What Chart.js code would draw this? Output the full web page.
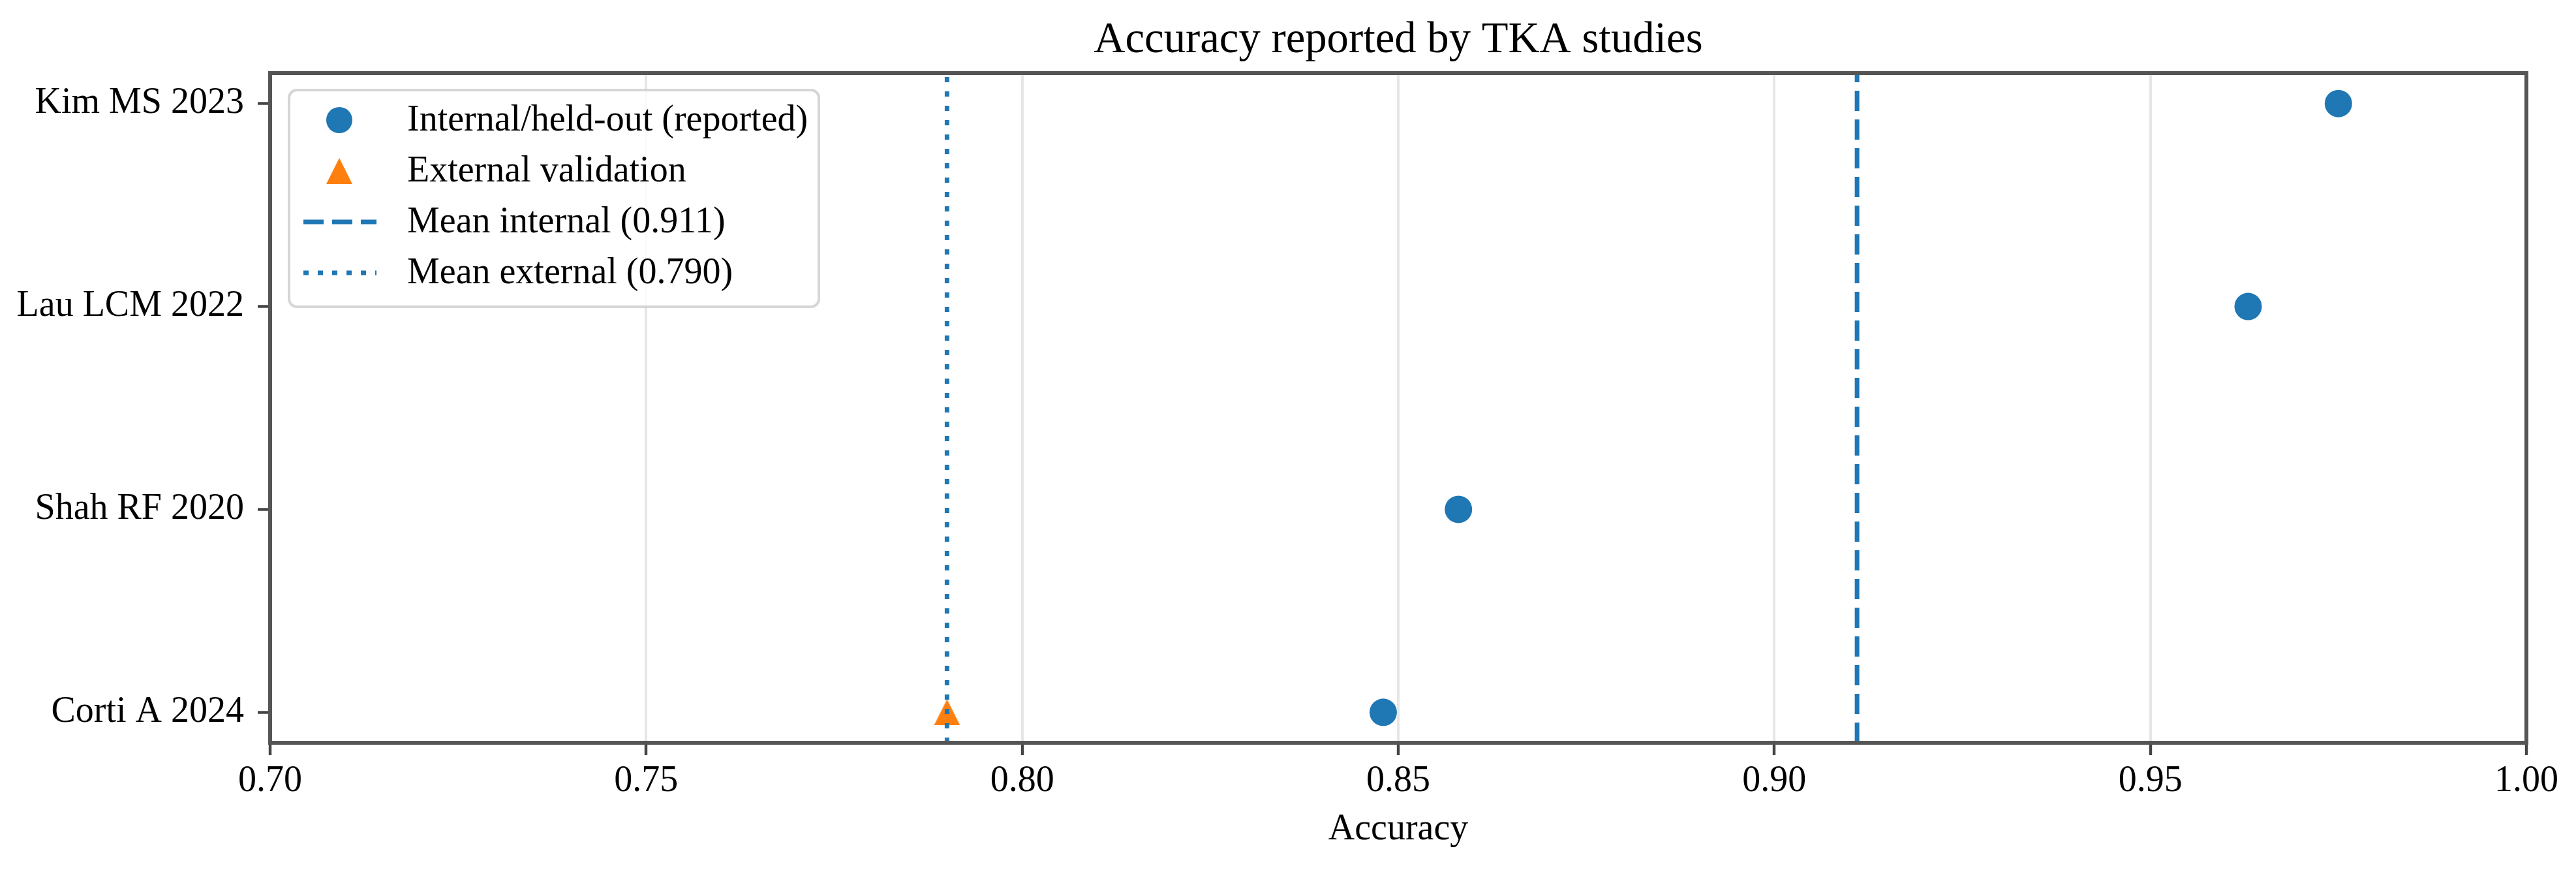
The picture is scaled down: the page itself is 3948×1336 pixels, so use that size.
<!DOCTYPE html>
<html>
<head>
<meta charset="utf-8">
<script src="https://cdn.jsdelivr.net/npm/chart.js@4.4.1/dist/chart.umd.min.js"></script>
<style>
  html, body { margin: 0; padding: 0; background: #fff; }
  #wrap { width: 3948px; height: 1336px; }
</style>
</head>
<body>
<div id="wrap"><canvas id="chart"></canvas></div>
<script>
// studies listed bottom to top
const studies = ['Corti A 2024', 'Shah RF 2020', 'Lau LCM 2022', 'Kim MS 2023'];
const internalAcc = [0.848, 0.858, 0.963, 0.975];
const externalStudies = ['Corti A 2024'];
const externalAcc = [0.790];
const xTicks = [0.70, 0.75, 0.80, 0.85, 0.90, 0.95, 1.00];

const BLUE = '#1f77b4';
const ORANGE = '#ff7f0e';
const FONT = "'Liberation Serif', 'Times New Roman', serif";
const TITLE = 'Accuracy reported by TKA studies';

const mean = arr => arr.reduce((a, b) => a + b, 0) / arr.length;
const meanInternal = mean(internalAcc);
const meanExternal = mean(externalAcc);

// y limits with matplotlib-like 5% margins
const yMin = -0.15;
const yMax = studies.length - 1 + 0.15;

// triangle marker like matplotlib '^'
function makeTriangle(size, color) {
    const c = document.createElement('canvas');
    c.width = size; c.height = size;
    const g = c.getContext('2d');
    g.fillStyle = color;
    g.beginPath();
    g.moveTo(size / 2, 0);
    g.lineTo(size, size);
    g.lineTo(0, size);
    g.closePath();
    g.fill();
    return c;
}
const triangle = makeTriangle(40, ORANGE);

// title centred over the plot area, not the whole canvas
const axesTitle = {
    id: 'axesTitle',
    afterDraw(chart) {
        const { ctx, chartArea: a } = chart;
        ctx.save();
        ctx.fillStyle = '#000';
        ctx.font = '66.7px ' + FONT;
        ctx.textAlign = 'center';
        ctx.textBaseline = 'alphabetic';
        ctx.fillText(TITLE, (a.left + a.right) / 2, a.top - 32);
        ctx.restore();
    }
};

// frame (all four spines)
const frame = {
    id: 'frame',
    afterDatasetsDraw(chart) {
        const { ctx, chartArea: a } = chart;
        ctx.save();
        ctx.strokeStyle = '#555555';
        ctx.lineWidth = 6;
        ctx.strokeRect(a.left, a.top, a.right - a.left, a.bottom - a.top);
        ctx.restore();
    }
};

// legend box in the upper left of the plot
const boxLegend = {
    id: 'boxLegend',
    afterDraw(chart) {
        const { ctx, chartArea: a } = chart;
        const x0 = a.left + 29, y0 = a.top + 26, w = 812, h = 332, r = 12;
        ctx.save();
        ctx.beginPath();
        ctx.roundRect(x0, y0, w, h, r);
        ctx.fillStyle = 'rgba(255,255,255,0.8)';
        ctx.fill();
        ctx.strokeStyle = 'rgba(204,204,204,0.8)';
        ctx.lineWidth = 4;
        ctx.stroke();

        chart.data.datasets.forEach((ds, i) => {
            const cy = y0 + 46 + i * 78;
            const cx = x0 + 77;
            if (ds.showLine) {
                ctx.beginPath();
                ctx.setLineDash(ds.borderDash);
                ctx.lineCap = 'butt';
                ctx.strokeStyle = ds.borderColor;
                ctx.lineWidth = ds.borderWidth;
                ctx.moveTo(x0 + 22, cy);
                ctx.lineTo(x0 + 134, cy);
                ctx.stroke();
                ctx.setLineDash([]);
            } else if (ds.pointStyle === 'circle') {
                ctx.beginPath();
                ctx.fillStyle = ds.backgroundColor;
                ctx.arc(cx, cy, 20, 0, Math.PI * 2);
                ctx.fill();
            } else {
                ctx.drawImage(ds.pointStyle, cx - 20, cy - 20);
            }
            ctx.fillStyle = '#000';
            ctx.font = '56px ' + FONT;
            ctx.textBaseline = 'middle';
            ctx.textAlign = 'left';
            ctx.fillText(ds.label, x0 + 181, cy + 1);
        });
        ctx.restore();
    }
};

const ctx = document.getElementById('chart').getContext('2d');

new Chart(ctx, {
    type: 'scatter',
    data: {
        datasets: [
            {
                label: 'Internal/held-out (reported)',
                data: internalAcc.map((v, i) => ({ x: v, y: i })),
                pointStyle: 'circle',
                pointRadius: 21,
                backgroundColor: BLUE,
                borderWidth: 0,
                order: 2
            },
            {
                label: 'External validation',
                data: externalAcc.map((v, i) => ({ x: v, y: studies.indexOf(externalStudies[i]) })),
                pointStyle: triangle,
                pointRadius: 20,
                backgroundColor: ORANGE,
                borderWidth: 0,
                order: 2
            },
            {
                label: `Mean internal (${meanInternal.toFixed(3)})`,
                type: 'line',
                data: [{ x: meanInternal, y: yMin }, { x: meanInternal, y: yMax }],
                showLine: true,
                borderColor: BLUE,
                borderWidth: 7,
                borderDash: [31, 13],
                pointRadius: 0,
                order: 1
            },
            {
                label: `Mean external (${meanExternal.toFixed(3)})`,
                type: 'line',
                data: [{ x: meanExternal, y: yMin }, { x: meanExternal, y: yMax }],
                showLine: true,
                borderColor: BLUE,
                borderWidth: 7,
                borderDash: [8, 14],
                pointRadius: 0,
                order: 1
            }
        ]
    },
    options: {
        responsive: true,
        maintainAspectRatio: false,
        devicePixelRatio: 1,
        animation: false,
        events: [],
        layout: { padding: { left: 0, right: 76, top: 112, bottom: 0 } },
        plugins: {
            legend: { display: false },
            tooltip: { enabled: false },
            title: { display: false }
        },
        scales: {
            x: {
                type: 'linear',
                min: 0.7,
                max: 1.0,
                afterBuildTicks: scale => { scale.ticks = xTicks.map(v => ({ value: v })); },
                afterFit: scale => { scale.height = 198; },
                border: { display: false },
                grid: {
                    color: '#e6e6e6',
                    lineWidth: 4,
                    drawTicks: true,
                    tickLength: 19,
                    tickColor: '#444',
                    tickWidth: 4.4
                },
                ticks: {
                    autoSkip: false,
                    maxRotation: 0,
                    padding: 12,
                    color: '#000',
                    font: { family: FONT, size: 56, lineHeight: 1 },
                    callback: v => Number(v).toFixed(2)
                },
                title: {
                    display: true,
                    text: 'Accuracy',
                    color: '#000',
                    font: { family: FONT, size: 56, lineHeight: 1 },
                    padding: { top: 0, bottom: 37 }
                }
            },
            y: {
                type: 'linear',
                min: yMin,
                max: yMax,
                afterBuildTicks: scale => { scale.ticks = studies.map((s, i) => ({ value: i })); },
                afterFit: scale => { scale.width = 414; },
                border: { display: false },
                grid: {
                    color: 'rgba(0,0,0,0)',
                    drawTicks: true,
                    tickLength: 19,
                    tickColor: '#444',
                    tickWidth: 4.4
                },
                ticks: {
                    autoSkip: false,
                    padding: 21,
                    color: '#000',
                    font: { family: FONT, size: 56, lineHeight: 1 },
                    callback: v => studies[v]
                }
            }
        }
    },
    plugins: [frame, boxLegend, axesTitle]
});
</script>
</body>
</html>
